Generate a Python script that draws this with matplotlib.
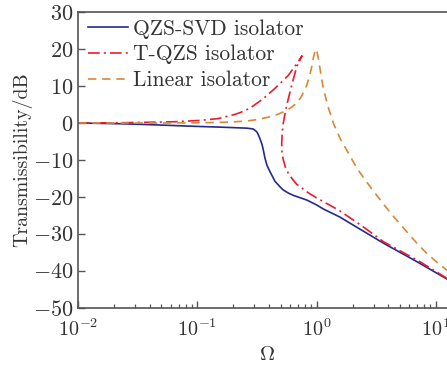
import math
import matplotlib
matplotlib.use("Agg")
import matplotlib.pyplot as plt
from matplotlib.ticker import FixedLocator, FuncFormatter, LogLocator, NullFormatter

plt.rcParams['mathtext.fontset'] = 'cm'
plt.rcParams['font.family'] = ['cmr10', 'DejaVu Serif']
plt.rcParams['axes.unicode_minus'] = False

# QZS-SVD isolator
svd_omega = [0.01, 0.015, 0.0225, 0.04, 0.065, 0.105, 0.15, 0.2, 0.26, 0.293, 0.305,
             0.315, 0.323, 0.3355, 0.3486, 0.357, 0.369, 0.384, 0.407, 0.448, 0.494,
             0.523, 0.58, 0.638, 0.83, 1.0, 1.138, 1.57, 1.917, 3.65, 6.945, 12.4]
svd_db = [0.0, -0.1, -0.2, -0.45, -0.7, -0.95, -1.1, -1.25, -1.4, -1.6, -2.0,
          -2.4, -3.0, -4.3, -5.8, -7.2, -9.5, -11.5, -13.2, -15.8, -17.3,
          -18.1, -19.0, -19.6, -20.9, -22.2, -23.3, -25.5, -27.2, -32.6, -37.6, -42.3]

# T-QZS isolator (full response, including the bent-back branch)
tqzs_omega = [0.01, 0.02, 0.04, 0.065, 0.105, 0.15, 0.2, 0.228, 0.2765, 0.305, 0.357,
              0.407, 0.448, 0.4935, 0.5792, 0.6377, 0.6809, 0.7259, 0.754,
              0.681, 0.618, 0.5616, 0.5434, 0.526, 0.515, 0.51, 0.512, 0.526, 0.55,
              0.579, 0.63, 0.681, 0.826, 0.88, 1.0, 1.138, 1.53, 2.33, 3.65, 7.36, 12.4]
tqzs_db = [0.0, 0.05, 0.2, 0.35, 0.7, 1.2, 2.2, 2.8, 4.0, 5.0, 6.6,
           8.2, 9.4, 10.7, 12.9, 14.8, 16.0, 17.4, 18.2,
           15.2, 10.2, 4.8, 2.5, 0.0, -2.5, -5.5, -7.8, -10.0, -12.2,
           -13.6, -15.3, -16.6, -18.6, -19.2, -20.3, -21.3, -23.6, -27.6, -32.2, -37.6, -42.1]

# Linear isolator
lin_omega = [0.01, 0.05, 0.1, 0.15, 0.2, 0.26, 0.3147, 0.36, 0.4068, 0.4777, 0.55,
             0.6183, 0.681, 0.74, 0.79, 0.826, 0.88, 0.91, 0.94, 0.97, 1.0,
             1.033, 1.068, 1.138, 1.176, 1.253, 1.288, 1.391, 1.58, 1.858, 2.181,
             2.56, 3.105, 3.765, 4.567, 5.54, 6.945, 8.421, 10.89, 12.4]
lin_db = [0.0, 0.0, 0.05, 0.15, 0.3, 0.55, 0.9, 1.3, 1.7, 2.4, 3.3,
          4.3, 5.4, 7.0, 8.8, 10.2, 13.2, 15.2, 17.7, 19.5, 20.0,
          17.5, 14.7, 9.4, 7.6, 4.2, 3.0, -0.3, -4.3, -8.3, -12.3,
          -15.5, -19.1, -22.6, -25.9, -29.0, -32.6, -35.4, -38.5, -39.9]

labels = ["QZS-SVD isolator", "T-QZS isolator", "Linear isolator"]
colors = ["#232a8c", "#ec1c2e", "#d8873a"]
yticks = [30, 20, 10, 0, -10, -20, -30, -40, -50]
xticks = [1e-2, 1e-1, 1e0, 1e1]

W, H = 447, 367
fig = plt.figure(figsize=(W / 100, H / 100), dpi=100)
decade = 119.3
xmin_log, xmax_log = -2, 1.2
ax_w = decade * (xmax_log - xmin_log)
ax = fig.add_axes([78 / W, (H - 307.5) / H, ax_w / W, (307.5 - 12.3) / H])

ax.plot(svd_omega, svd_db, color=colors[0], lw=1.2, label=labels[0])
ax.plot(tqzs_omega, tqzs_db, color=colors[1], lw=1.2, dashes=(7, 2.5, 1.2, 2.5), label=labels[1])
ax.plot(lin_omega, lin_db, color=colors[2], lw=1.2, dashes=(5, 3.5), label=labels[2])

ax.set_xscale('log')
ax.set_xlim(10 ** xmin_log, 10 ** xmax_log)
ax.set_ylim(-50, 30)

spine_col = "#555555"
for s in ['left', 'bottom', 'top']:
    ax.spines[s].set_color(spine_col)
    ax.spines[s].set_linewidth(1.2)
ax.spines['right'].set_visible(False)

ax.yaxis.set_major_locator(FixedLocator(yticks))
ax.yaxis.set_major_formatter(FuncFormatter(lambda v, p: r'$%d$' % v if v >= 0 else r'$-%d$' % (-v)))
ax.xaxis.set_major_locator(FixedLocator(xticks))
ax.xaxis.set_major_formatter(FuncFormatter(lambda v, p: r'$10^{%d}$' % round(math.log10(v))))
ax.xaxis.set_minor_locator(LogLocator(base=10, subs=range(2, 10), numticks=20))
ax.xaxis.set_minor_formatter(NullFormatter())

ax.tick_params(axis='both', which='major', direction='in', length=5, width=1.0,
               color=spine_col, labelcolor="#333333", top=False, right=False)
ax.tick_params(axis='x', which='minor', direction='in', length=3, width=0.9,
               color=spine_col, top=False)
ax.tick_params(axis='x', which='major', pad=8, labelsize=14.5)
ax.tick_params(axis='y', which='major', pad=3.5, labelsize=16)

fig.text(22 / W, 1 - 160 / H, "Transmissibility/dB", rotation=90, ha='center', va='center',
         fontsize=14.3, color="#333333")
fig.text(267 / W, 1 - 355 / H, r'$\Omega$', ha='center', va='center', fontsize=15, color="#333333")

leg = ax.legend(loc='upper left', bbox_to_anchor=(88 / W, 1 - 19 / H), bbox_transform=fig.transFigure,
                frameon=False, fontsize=15.5, handlelength=1.85, handletextpad=0.25,
                labelspacing=0.3, borderpad=0, borderaxespad=0)
for t in leg.get_texts():
    t.set_color("#333333")

fig.savefig("out.png", dpi=100)
